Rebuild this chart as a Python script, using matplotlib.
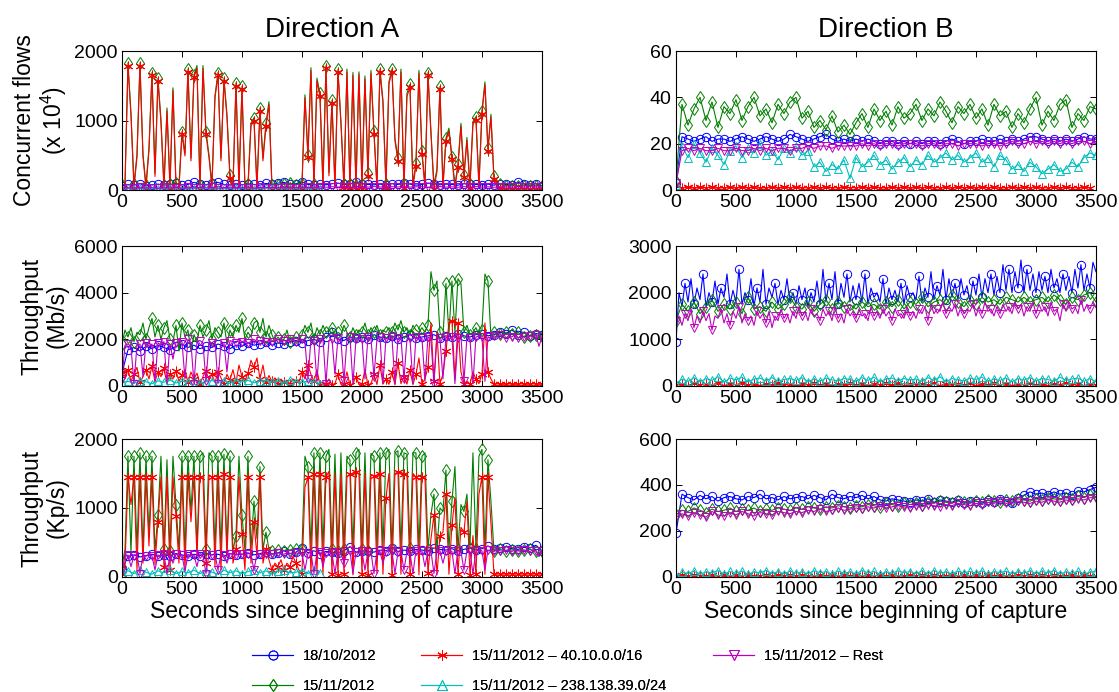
import numpy as np
import matplotlib
matplotlib.use('Agg')
import matplotlib.pyplot as plt
from matplotlib.lines import Line2D

plt.rcParams['font.family'] = ['Liberation Sans', 'DejaVu Sans']
plt.rcParams['mathtext.fontset'] = 'custom'
plt.rcParams['mathtext.rm'] = 'Liberation Sans'

# ---------------- time grids (seconds since beginning of capture) ----------------
T25 = np.arange(0, 3501, 25)
T50 = np.arange(0, 3501, 50)
T50_CYAN_A = np.arange(0, 1651, 50)
T50_RED_B1 = np.arange(0, 3451, 50)

LABELS = ['18/10/2012', '15/11/2012', '15/11/2012 \u2013 40.10.0.0/16',
          '15/11/2012 \u2013 238.138.39.0/24', '15/11/2012 \u2013 Rest']

# ---------------- Direction A : concurrent flows (x 10^4) ----------------
a_flows_blue = [60, 80, 70, 90, 60, 75, 85, 70, 80, 95,
                70, 80, 110, 85, 75, 95, 110, 80, 70, 85,
                75, 90, 80, 70, 95, 80, 100, 110, 85, 90,
                115, 80, 70, 85, 75, 90, 100, 80, 85, 110,
                90, 80, 75, 85, 70, 90, 80, 95, 85, 70,
                80, 100, 90, 75, 85, 80, 70, 90, 85, 80,
                75, 85, 70, 90, 80, 75, 110, 85, 70, 90,
                60]
a_flows_green = [70, 90, 1830, 1110, 80, 510, 1830, 520, 70, 610,
                 1690, 240, 1610, 1010, 70, 1180, 80, 1470, 100, 70,
                 840, 530, 1740, 460, 1660, 1790, 70, 1790, 840, 510,
                 80, 1360, 1690, 460, 1610, 1090, 210, 70, 1540, 90,
                 1490, 70, 80, 960, 1040, 70, 1180, 460, 960, 1270,
                 70, 80, 70, 90, 80, 70, 100, 80, 70, 90,
                 80, 1370, 510, 1760, 80, 1610, 1390, 90, 1790, 250,
                 1290, 80, 1740, 990, 90, 1740, 80, 1690, 70, 1700,
                 90, 1640, 250, 1720, 850, 80, 1740, 1290, 90, 1560,
                 1740, 745, 460, 1740, 80, 1390, 1520, 90, 390, 1720,
                 565, 80, 1690, 850, 70, 300, 1490, 80, 745, 890,
                 480, 80, 370, 960, 220, 755, 80, 985, 1055, 90,
                 1140, 1555, 600, 1090, 195, 120, 80, 70, 60, 70,
                 60, 70, 60, 70, 60, 70, 60, 70, 60, 70,
                 60]
a_flows_red = [20, 40, 1790, 1070, 30, 470, 1790, 480, 20, 570,
               1650, 195, 1570, 970, 20, 1140, 30, 1430, 50, 20,
               800, 490, 1700, 420, 1620, 1750, 20, 1750, 800, 470,
               30, 1320, 1650, 420, 1570, 1050, 170, 20, 1500, 40,
               1450, 20, 30, 920, 1000, 20, 1140, 420, 920, 1230,
               20, 30, 20, 40, 30, 20, 50, 30, 20, 40,
               30, 1330, 470, 1720, 30, 1570, 1348, 40, 1750, 205,
               1252, 30, 1700, 952, 40, 1700, 30, 1650, 20, 1667,
               40, 1600, 205, 1680, 810, 30, 1700, 1252, 40, 1524,
               1700, 705, 419, 1700, 30, 1348, 1476, 40, 348, 1680,
               524, 30, 1650, 810, 20, 262, 1450, 30, 705, 850,
               443, 30, 333, 920, 181, 714, 30, 943, 1014, 40,
               1100, 1514, 562, 1050, 157, 80, 30, 20, 10, 20,
               10, 20, 10, 20, 10, 20, 10, 20, 10, 20,
               10]
a_flows_cyan = [20, 25, 15, 30, 20, 25, 15, 20, 30, 20,
                25, 15, 20, 25, 30, 20, 15, 25, 20, 30,
                20, 25, 15, 20, 30, 25, 20, 15, 25, 20,
                30, 20, 25, 15]
a_flows_magenta = [30, 35, 25, 40, 30, 35, 28, 38, 30, 35,
                   28, 40, 32, 36, 30, 38, 28, 35, 32, 40,
                   30, 36, 28, 38, 32, 35, 30, 40, 28, 36,
                   32, 38, 30, 45, 40, 48, 42, 50, 45, 40,
                   48, 42, 50, 45, 40, 48, 44, 50, 42, 46,
                   48, 40, 45, 50, 42, 46, 40, 48, 44, 50,
                   42, 46, 40, 48, 44, 40, 46, 42, 48, 44,
                   40]

# ---------------- Direction A : throughput (Mb/s) ----------------
a_mbps_blue = [550, 1550, 1650, 1500, 1700, 1600, 1750, 1650, 1550, 1700,
               1800, 1650, 1750, 1600, 1700, 1650, 1800, 1700, 1600, 1750,
               1700, 1850, 1750, 1800, 1900, 1750, 1850, 1800, 1900, 1950,
               1850, 1950, 2000, 1900, 2100, 2300, 2000, 1950, 2100, 2050,
               2100, 2000, 2200, 2100, 2050, 2150, 2000, 2100, 2200, 2050,
               2100, 2150, 2200, 2050, 2150, 2100, 2250, 2150, 2100, 2200,
               2250, 2150, 2200, 2300, 2250, 2400, 2200, 2300, 2150, 2250,
               2200]
a_mbps_green = [1800, 2400, 2100, 2500, 1900, 2300, 2200, 2700, 2000, 2500,
                2900, 2100, 2600, 2000, 2500, 2800, 2000, 1900, 2600, 1500,
                2700, 2100, 2400, 1500, 2200, 1900, 2600, 2100, 2400, 2800,
                2000, 2500, 2300, 2100, 2700, 1800, 2400, 2100, 2600, 2300,
                2900, 2000, 2300, 2100, 2700, 2800, 2300, 2900, 2100, 2600,
                2200, 1900, 2100, 1950, 2000, 2400, 1900, 2000, 2100, 1950,
                2200, 2600, 2300, 2700, 2000, 2500, 2200, 2600, 2300, 2400,
                2500, 2100, 2300, 2200, 2600, 2300, 2100, 2500, 2200, 2400,
                2300, 2700, 2200, 2500, 2300, 2600, 2200, 2400, 2300, 2500,
                2300, 2700, 2400, 2800, 2300, 2500, 2200, 2600, 2400, 2300,
                2500, 2300, 2600, 4900, 4100, 4500, 2300, 2100, 4400, 2200,
                4500, 2300, 4600, 4400, 2300, 2600, 2200, 2300, 2500, 2200,
                2400, 4800, 4500, 2100, 2300, 2200, 2250, 2100, 2300, 2200,
                2250, 2150, 2300, 2200, 2100, 2250, 2150, 2300, 2200, 2100,
                2150]
a_mbps_red = [600, 300, 700, 200, 500, 800, 150, 400, 700, 300,
              850, 200, 600, 400, 750, 100, 500, 300, 650, 200,
              450, 700, 150, 600, 300, 550, 100, 400, 650, 250,
              500, 150, 600, 350, 100, 500, 250, 700, 150, 900,
              400, 200, 550, 1100, 800, 1200, 300, 900, 150, 450,
              200, 350, 100, 300, 150, 250, 100, 300, 200, 150,
              600, 300, 900, 500, 200, 700, 50, 100, 80, 300,
              60, 100, 500, 70, 80, 600, 50, 100, 400, 60,
              80, 700, 50, 100, 500, 60, 900, 80, 300, 70,
              600, 50, 1000, 100, 400, 80, 700, 60, 500, 1200,
              100, 300, 800, 2700, 200, 2300, 100, 500, 1500, 2700,
              2800, 300, 2700, 600, 100, 200, 80, 600, 300, 100,
              500, 2700, 600, 300, 80, 90, 80, 70, 80, 90,
              80, 70, 80, 90, 80, 70, 80, 90, 80, 70,
              80]
a_mbps_cyan = [150, 200, 120, 230, 180, 100, 220, 160, 250, 130,
               200, 170, 240, 120, 190, 230, 150, 210, 110, 220,
               180, 240, 140, 200, 230, 160, 210, 120, 250, 190,
               150, 220, 180, 100]
a_mbps_magenta = [300, 1750, 1800, 1700, 100, 1750, 1800, 400, 1850, 1700,
                  1800, 200, 1850, 1750, 1900, 100, 1800, 1150, 1850, 1950,
                  1900, 300, 2000, 1850, 100, 1900, 1950, 1850, 200, 1900,
                  1850, 1950, 100, 1900, 1850, 600, 1950, 1900, 1850, 2000,
                  1900, 1950, 1850, 1900, 2000, 1900, 1950, 1850, 1900, 1950,
                  1900, 1950, 2000, 1900, 1950, 1900, 2000, 1950, 1900, 1950,
                  2000, 1900, 300, 2000, 1950, 200, 2000, 2050, 100, 1950,
                  2000, 500, 2050, 1950, 200, 2000, 2100, 100, 2000, 2050,
                  2000, 300, 2100, 2050, 400, 2000, 2100, 100, 2050, 2000,
                  2100, 100, 2050, 2100, 300, 2000, 2050, 100, 2100, 2000,
                  2050, 200, 2100, 2000, 100, 2100, 2050, 300, 2100, 2000,
                  2100, 100, 2050, 2150, 200, 2100, 2050, 100, 2100, 2150,
                  2100, 200, 2100, 2050, 2150, 2100, 2200, 2100, 2050, 2150,
                  2100, 2200, 2050, 2150, 2100, 2000, 2150, 2100, 2200, 1700,
                  2100]

# ---------------- Direction A : throughput (Kp/s) ----------------
a_kpps_blue = [100, 300, 320, 290, 310, 330, 300, 320, 310, 340,
               320, 300, 330, 310, 340, 320, 330, 300, 340, 320,
               330, 350, 320, 340, 360, 330, 350, 380, 340, 360,
               420, 350, 380, 340, 370, 360, 350, 380, 440, 360,
               380, 370, 360, 390, 380, 420, 370, 390, 380, 400,
               390, 380, 420, 400, 390, 410, 380, 400, 420, 390,
               410, 450, 400, 420, 440, 410, 400, 430, 420, 460,
               380]
a_kpps_green = [150, 400, 1750, 350, 1750, 400, 1800, 350, 1750, 600,
                1750, 380, 900, 1750, 400, 1700, 380, 1750, 1050, 400,
                1750, 350, 1750, 950, 1750, 400, 1750, 1800, 400, 1800,
                1750, 400, 1750, 380, 1780, 400, 1750, 380, 600, 1750,
                900, 380, 1750, 400, 1100, 550, 1600, 400, 650, 400,
                380, 400, 390, 410, 380, 400, 390, 410, 400, 390,
                400, 1750, 1600, 400, 1800, 380, 1800, 400, 1750, 1850,
                400, 1780, 380, 1800, 400, 1750, 1700, 400, 1800, 1850,
                400, 1800, 380, 1790, 1750, 400, 1800, 420, 1800, 1850,
                400, 1800, 1830, 400, 1800, 1780, 420, 1800, 1800, 400,
                1750, 1800, 400, 900, 1200, 400, 1000, 950, 1550, 400,
                1100, 1600, 400, 1050, 950, 1200, 420, 1800, 400, 1750,
                1850, 400, 1700, 1100, 380, 390, 400, 390, 380, 400,
                390, 400, 380, 400, 390, 380, 400, 390, 380, 300,
                380]
a_kpps_red = [50, 150, 1450, 1050, 1450, 100, 1450, 200, 1450, 450,
              1450, 180, 800, 1450, 150, 1450, 100, 1450, 880, 200,
              1450, 100, 1450, 800, 1450, 300, 1450, 1450, 200, 1480,
              1450, 150, 1450, 100, 1500, 300, 1450, 200, 400, 1450,
              620, 100, 1450, 200, 800, 300, 1450, 200, 400, 250,
              100, 200, 150, 250, 100, 200, 150, 300, 200, 100,
              50, 1300, 1450, 40, 1500, 50, 1500, 30, 1450, 1530,
              40, 1500, 30, 1500, 50, 1450, 1500, 30, 1520, 1500,
              40, 1500, 30, 1480, 1470, 50, 1500, 40, 1150, 1500,
              30, 1500, 1520, 40, 1500, 1480, 50, 1500, 1450, 30,
              1450, 1450, 60, 550, 900, 30, 600, 650, 1200, 40,
              750, 1150, 50, 720, 650, 1100, 30, 600, 40, 1200,
              1450, 40, 1450, 780, 50, 40, 50, 40, 50, 40,
              50, 40, 50, 40, 50, 40, 50, 40, 50, 40,
              50]
a_kpps_cyan = [60, 90, 50, 100, 70, 40, 90, 60, 100, 50,
               80, 60, 100, 50, 90, 70, 40, 100, 60, 90,
               50, 80, 100, 60, 90, 40, 80, 100, 60, 70,
               90, 50, 100, 60]
a_kpps_magenta = [100, 300, 320, 150, 310, 330, 50, 320, 300, 330,
                  310, 100, 320, 300, 330, 50, 320, 200, 330, 310,
                  320, 80, 330, 310, 320, 150, 340, 320, 50, 330,
                  320, 340, 100, 330, 320, 200, 340, 330, 320, 340,
                  330, 320, 340, 330, 100, 340, 330, 320, 340, 330,
                  340, 330, 350, 340, 330, 350, 340, 330, 350, 340,
                  350, 100, 340, 360, 50, 350, 360, 150, 350, 360,
                  350, 50, 360, 350, 200, 360, 370, 50, 360, 350,
                  370, 100, 360, 370, 50, 360, 370, 200, 360, 380,
                  370, 50, 360, 380, 100, 370, 360, 50, 380, 370,
                  380, 150, 370, 380, 50, 370, 380, 200, 370, 380,
                  370, 50, 380, 370, 100, 380, 370, 50, 380, 390,
                  380, 100, 390, 380, 370, 390, 380, 370, 390, 380,
                  370, 390, 380, 370, 390, 380, 370, 390, 380, 300,
                  380]

# ---------------- Direction B : concurrent flows (x 10^4) ----------------
b_flows_blue = [3, 23, 22, 21, 22, 23, 21, 22, 22, 21,
                22, 23, 22, 21, 22, 23, 22, 21, 22, 24,
                23, 22, 21, 22, 23, 24, 22, 21, 22, 21,
                22, 21, 22, 21, 20, 21, 21, 20, 21, 20,
                21, 20, 21, 21, 20, 21, 22, 21, 20, 21,
                21, 22, 21, 21, 22, 21, 22, 21, 22, 23,
                23, 22, 21, 22, 21, 22, 21, 22, 23, 22,
                22]
b_flows_green = [4, 37, 28, 35, 40, 30, 38, 27, 36, 33,
                 39, 30, 36, 40, 32, 35, 29, 37, 33, 38,
                 40, 31, 34, 27, 30, 26, 32, 25, 28, 24,
                 29, 33, 27, 35, 30, 34, 28, 36, 31, 33,
                 37, 30, 35, 32, 38, 34, 29, 36, 33, 37,
                 31, 35, 28, 37, 32, 34, 27, 33, 29, 35,
                 40, 28, 34, 30, 37, 39, 27, 33, 30, 36,
                 35]
b_flows_red = [2, 1, 1.2, 0.9, 1.1, 1, 1.2, 0.8, 1, 1.1,
               0.9, 1.2, 1, 1.1, 0.8, 1, 1.2, 0.9, 1.1, 1,
               1.2, 0.9, 1, 1.1, 0.8, 1.2, 1, 0.9, 1.1, 1,
               1, 1.2, 0.9, 1.1, 1, 0.8, 1.2, 1, 1.1, 0.9,
               1.1, 1, 1.2, 0.9, 1, 1.1, 0.8, 1.2, 1, 1.1,
               0.9, 1.2, 1, 1.1, 0.8, 1, 1.2, 0.9, 1.1, 1,
               1.2, 0.9, 1, 1.1, 0.8, 1.2, 1, 0.9, 1.1, 1]
b_flows_cyan = [2, 19, 14, 20, 16, 12, 18, 15, 11, 17,
                19, 14, 18, 16, 20, 15, 17, 13, 18, 16,
                19, 15, 17, 10, 12, 8, 11, 9, 13, 5,
                14, 10, 12, 15, 11, 13, 9, 12, 14, 10,
                13, 11, 15, 12, 14, 16, 13, 15, 12, 14,
                16, 12, 14, 10, 15, 13, 9, 11, 8, 12,
                10, 7, 9, 11, 8, 9, 12, 10, 14, 16,
                15]
b_flows_magenta = [3, 17, 18, 17, 18, 17, 17, 18, 17, 17,
                   18, 17, 17, 18, 17, 18, 17, 18, 18, 17,
                   18, 18, 19, 18, 19, 19, 18, 19, 19, 19,
                   19, 20, 19, 20, 19, 20, 20, 19, 20, 20,
                   20, 19, 20, 20, 19, 20, 20, 19, 20, 20,
                   20, 19, 20, 20, 19, 20, 21, 20, 20, 21,
                   20, 21, 20, 21, 20, 21, 20, 21, 21, 20,
                   21]

# ---------------- Direction B : throughput (Mb/s) ----------------
b_mbps_blue = [950, 2000, 1700, 2200, 1800, 2300, 1750, 2100, 1850, 2400,
               1700, 2000, 1800, 2250, 1750, 2100, 1900, 2400, 1750, 2050,
               1800, 2500, 1750, 2000, 1850, 2300, 1700, 2100, 1800, 2500,
               1750, 2100, 1900, 2200, 1750, 2050, 1850, 2300, 1800, 2000,
               1750, 2150, 1850, 2100, 1700, 2000, 1800, 2250, 1750, 2500,
               1800, 2200, 1850, 2450, 1750, 2200, 1900, 2400, 1800, 2150,
               1850, 2200, 1800, 2400, 1750, 2100, 1900, 2000, 1800, 2300,
               1750, 2100, 1850, 2050, 1800, 2200, 1750, 2150, 1900, 2000,
               1850, 2350, 1800, 2100, 1900, 2450, 1850, 2150, 1950, 2500,
               1850, 2300, 1900, 2200, 1850, 2300, 1950, 2150, 1800, 2250,
               1950, 2400, 1900, 2300, 2000, 2400, 1950, 2350, 2000, 2600,
               2050, 2500, 2000, 2450, 2100, 2700, 2000, 2500, 2050, 2400,
               2000, 2450, 2050, 2350, 2000, 2500, 2100, 2300, 2000, 2400,
               2050, 2350, 2000, 2500, 2100, 2600, 2050, 2400, 2100, 2650,
               2450]
b_mbps_green = [1400, 1750, 1600, 1800, 1550, 1700, 1850, 1600, 1750, 1650,
                1800, 1550, 1900, 1650, 1700, 1600, 1800, 1650, 1750, 1900,
                1700, 1650, 1800, 1600, 1750, 1850, 1650, 1800, 1700, 1750,
                1650, 1800, 1700, 1750, 1650, 1800, 1700, 1850, 1650, 1800,
                1750, 1900, 1700, 1800, 1850, 1750, 1950, 1800, 1700, 1850,
                1750, 1900, 1800, 1850, 1750, 1900, 1850, 1800, 1900, 1800,
                1850, 1900, 1800, 1950, 1850, 1750, 1900, 1850, 1950, 2000,
                1800]
b_mbps_red = [20, 40, 10, 60, 30, 50, 20, 70, 10, 40,
              30, 60, 20, 50, 10, 40, 30, 60, 20, 50,
              10, 40, 30, 70, 20, 50, 10, 40, 30, 60,
              20, 50, 10, 40, 30, 60, 20, 70, 10, 40,
              30, 50, 20, 60, 10, 40, 30, 50, 20, 60,
              10, 40, 30, 70, 20, 50, 10, 40, 30, 60,
              20, 50, 10, 40, 30, 60, 20, 50, 10, 40,
              20]
b_mbps_cyan = [50, 150, 100, 180, 90, 160, 120, 200, 80, 170,
               130, 190, 90, 150, 170, 110, 180, 100, 140, 160,
               120, 180, 90, 150, 100, 170, 130, 110, 160, 140,
               100, 180, 120, 190, 90, 150, 170, 110, 160, 130,
               150, 100, 180, 120, 200, 90, 160, 130, 110, 170,
               140, 190, 100, 150, 120, 170, 90, 160, 130, 180,
               110, 160, 140, 100, 190, 120, 150, 170, 100, 160,
               90]
b_mbps_magenta = [1400, 1500, 1300, 1550, 1400, 1650, 1250, 1500, 1350, 1600,
                  1400, 1550, 1200, 1500, 1450, 1650, 1350, 1550, 1300, 1600,
                  1450, 1700, 1350, 1550, 1400, 1500, 1300, 1600, 1450, 1550,
                  1350, 1600, 1250, 1500, 1400, 1650, 1450, 1550, 1350, 1600,
                  1450, 1700, 1500, 1600, 1400, 1650, 1500, 1550, 1400, 1650,
                  1500, 1600, 1400, 1700, 1450, 1550, 1350, 1650, 1500, 1600,
                  1450, 1650, 1500, 1550, 1400, 1700, 1500, 1600, 1450, 1650,
                  1500, 1600, 1400, 1650, 1500, 1550, 1450, 1700, 1500, 1600,
                  1450, 1650, 1550, 1700, 1400, 1750, 1550, 1650, 1600, 1800,
                  1550, 1700, 1600, 1750, 1500, 1700, 1550, 1650, 1600, 1750,
                  1500, 1700, 1550, 1800, 1600, 1650, 1500, 1700, 1550, 1750,
                  1600, 1700, 1550, 1800, 1650, 1750, 1500, 1700, 1600, 1800,
                  1550, 1750, 1600, 1700, 1500, 1800, 1600, 1650, 1400, 1750,
                  1600, 1800, 1650, 1700, 1550, 1850, 1600, 1750, 1650, 1800,
                  1700]

# ---------------- Direction B : throughput (Kp/s) ----------------
b_kpps_blue = [190, 360, 345, 335, 355, 340, 350, 330, 345, 350,
               340, 335, 350, 345, 360, 340, 345, 335, 350, 340,
               345, 350, 340, 355, 345, 335, 360, 345, 340, 350,
               345, 355, 340, 350, 335, 330, 340, 335, 330, 325,
               335, 330, 340, 325, 335, 330, 325, 335, 320, 330,
               330, 320, 335, 325, 340, 330, 320, 345, 355, 370,
               360, 365, 355, 370, 360, 365, 355, 375, 370, 380,
               390]
b_kpps_green = [270, 290, 285, 300, 290, 280, 295, 285, 290, 300,
                285, 295, 290, 300, 285, 295, 290, 300, 295, 290,
                300, 295, 305, 300, 295, 305, 300, 310, 305, 300,
                310, 305, 315, 310, 305, 320, 315, 310, 320, 315,
                320, 315, 325, 320, 330, 325, 320, 330, 325, 320,
                330, 325, 335, 330, 325, 335, 330, 340, 335, 330,
                340, 335, 345, 340, 335, 345, 340, 350, 345, 355,
                350]
b_kpps_red = [5, 8, 3, 10, 6, 4, 9, 5, 7, 3,
              8, 5, 10, 4, 6, 9, 3, 7, 5, 8,
              4, 9, 6, 3, 8, 5, 10, 4, 7, 6,
              9, 3, 7, 5, 8, 4, 10, 6, 3, 8,
              5, 9, 4, 7, 6, 3, 8, 5, 10, 4,
              7, 6, 9, 3, 8, 5, 4, 10, 6, 7,
              3, 8, 5, 9, 4, 6, 7, 3, 8, 5,
              6]
b_kpps_cyan = [5, 20, 15, 25, 12, 22, 18, 28, 14, 24,
               16, 26, 12, 22, 18, 28, 15, 23, 13, 25,
               17, 21, 14, 27, 19, 23, 12, 26, 16, 22,
               14, 28, 18, 24, 12, 22, 16, 27, 19, 23,
               15, 26, 13, 28, 17, 22, 14, 25, 18, 24,
               16, 27, 13, 23, 19, 25, 14, 22, 17, 26,
               15, 24, 18, 28, 13, 22, 16, 25, 14, 20,
               25]
b_kpps_magenta = [260, 275, 265, 280, 270, 260, 285, 270, 265, 280,
                  270, 285, 275, 265, 280, 275, 270, 285, 280, 275,
                  285, 280, 290, 285, 295, 285, 290, 300, 290, 295,
                  300, 295, 305, 300, 310, 300, 305, 310, 305, 300,
                  310, 305, 315, 310, 305, 315, 310, 320, 315, 310,
                  320, 315, 325, 320, 330, 320, 325, 330, 325, 320,
                  330, 325, 335, 330, 325, 335, 330, 340, 335, 345,
                  345]

# ---------------- styles ----------------
COLORS = ['#0000ff', '#008000', '#ff0000', '#00bfbf', '#bf00bf']
MARKERS = ['o', 'd', (6, 2, 0), '^', 'v']
MSIZES = [6, 6, 7, 6, 6]

PANELS = [
    # (ax rect, ylim, yticks, [(t, y, markevery) for blue, green, red, cyan, magenta])
    ((0.109, 0.7254, 0.3753, 0.2009), (0, 2000), [0, 1000, 2000],
     [(T50, a_flows_blue, 1), (T25, a_flows_green, 2), (T25, a_flows_red, 2),
      (T50_CYAN_A, a_flows_cyan, 1), (T50, a_flows_magenta, 1)]),
    ((0.109, 0.4422, 0.3753, 0.2023), (0, 6000), [0, 2000, 4000, 6000],
     [(T50, a_mbps_blue, 1), (T25, a_mbps_green, 2), (T25, a_mbps_red, 2),
      (T50_CYAN_A, a_mbps_cyan, 1), (T25, a_mbps_magenta, 2)]),
    ((0.109, 0.1662, 0.3753, 0.1994), (0, 2000), [0, 1000, 2000],
     [(T50, a_kpps_blue, 1), (T25, a_kpps_green, 2), (T25, a_kpps_red, 2),
      (T50_CYAN_A, a_kpps_cyan, 1), (T25, a_kpps_magenta, 2)]),
    ((0.6041, 0.7254, 0.3753, 0.2009), (0, 60), [0, 20, 40, 60],
     [(T50, b_flows_blue, 1), (T50, b_flows_green, 1), (T50_RED_B1, b_flows_red, 1),
      (T50, b_flows_cyan, 1), (T50, b_flows_magenta, 1)]),
    ((0.6041, 0.4422, 0.3753, 0.2023), (0, 3000), [0, 1000, 2000, 3000],
     [(T25, b_mbps_blue, 3), (T50, b_mbps_green, 1), (T50, b_mbps_red, 1),
      (T50, b_mbps_cyan, 1), (T25, b_mbps_magenta, 3)]),
    ((0.6041, 0.1662, 0.3753, 0.1994), (0, 600), [0, 200, 400, 600],
     [(T50, b_kpps_blue, 1), (T50, b_kpps_green, 1), (T50, b_kpps_red, 1),
      (T50, b_kpps_cyan, 1), (T50, b_kpps_magenta, 1)]),
]

YLABELS = ['Concurrent flows\n(x 10$^4$)', 'Throughput\n(Mb/s)', 'Throughput\n(Kp/s)']

fig = plt.figure(figsize=(11.19, 6.92), dpi=100)
axes = []
for k, (rect, ylim, yticks, series) in enumerate(PANELS):
    ax = fig.add_axes(rect)
    axes.append(ax)
    for (t, y, me), c, m, ms in zip(series, COLORS, MARKERS, MSIZES):
        ax.plot(t, y, color=c, lw=0.8, marker=m, markersize=ms, markevery=me,
                markerfacecolor='none', markeredgecolor=c, markeredgewidth=0.7)
    ax.set_xlim(0, 3500)
    ax.set_ylim(*ylim)
    ax.set_xticks(np.arange(0, 3501, 500))
    ax.set_yticks(yticks)
    ax.tick_params(direction='in', top=True, right=True, length=4, width=0.7,
                   labelsize=14, pad=3)
    for s in ax.spines.values():
        s.set_linewidth(0.8)
    if k < 3:
        ax.set_ylabel(YLABELS[k], fontsize=16.5, linespacing=1.1, labelpad=4)
    if k in (2, 5):
        ax.set_xlabel('Seconds since beginning of capture', fontsize=16.5, labelpad=1)

axes[0].set_title('Direction A', fontsize=20, pad=10)
axes[3].set_title('Direction B', fontsize=20, pad=10)

handles = [Line2D([], [], color=c, lw=0.8, marker=m, markersize=ms + 0.5,
                  markerfacecolor='none', markeredgecolor=c, markeredgewidth=0.7)
           for c, m, ms in zip(COLORS, MARKERS, MSIZES)]
cols = [([0, 1], 0.224), ([2, 3], 0.375), ([4], 0.636)]
for idx, x0 in cols:
    leg = fig.legend([handles[i] for i in idx], [LABELS[i] for i in idx],
                     loc='upper left', bbox_to_anchor=(x0, 0.064), frameon=False,
                     fontsize=10.5, handlelength=2.8, handletextpad=0.7,
                     labelspacing=1.1, borderpad=0.1, borderaxespad=0)
    fig.add_artist(leg)

fig.savefig('out.png', dpi=100)
